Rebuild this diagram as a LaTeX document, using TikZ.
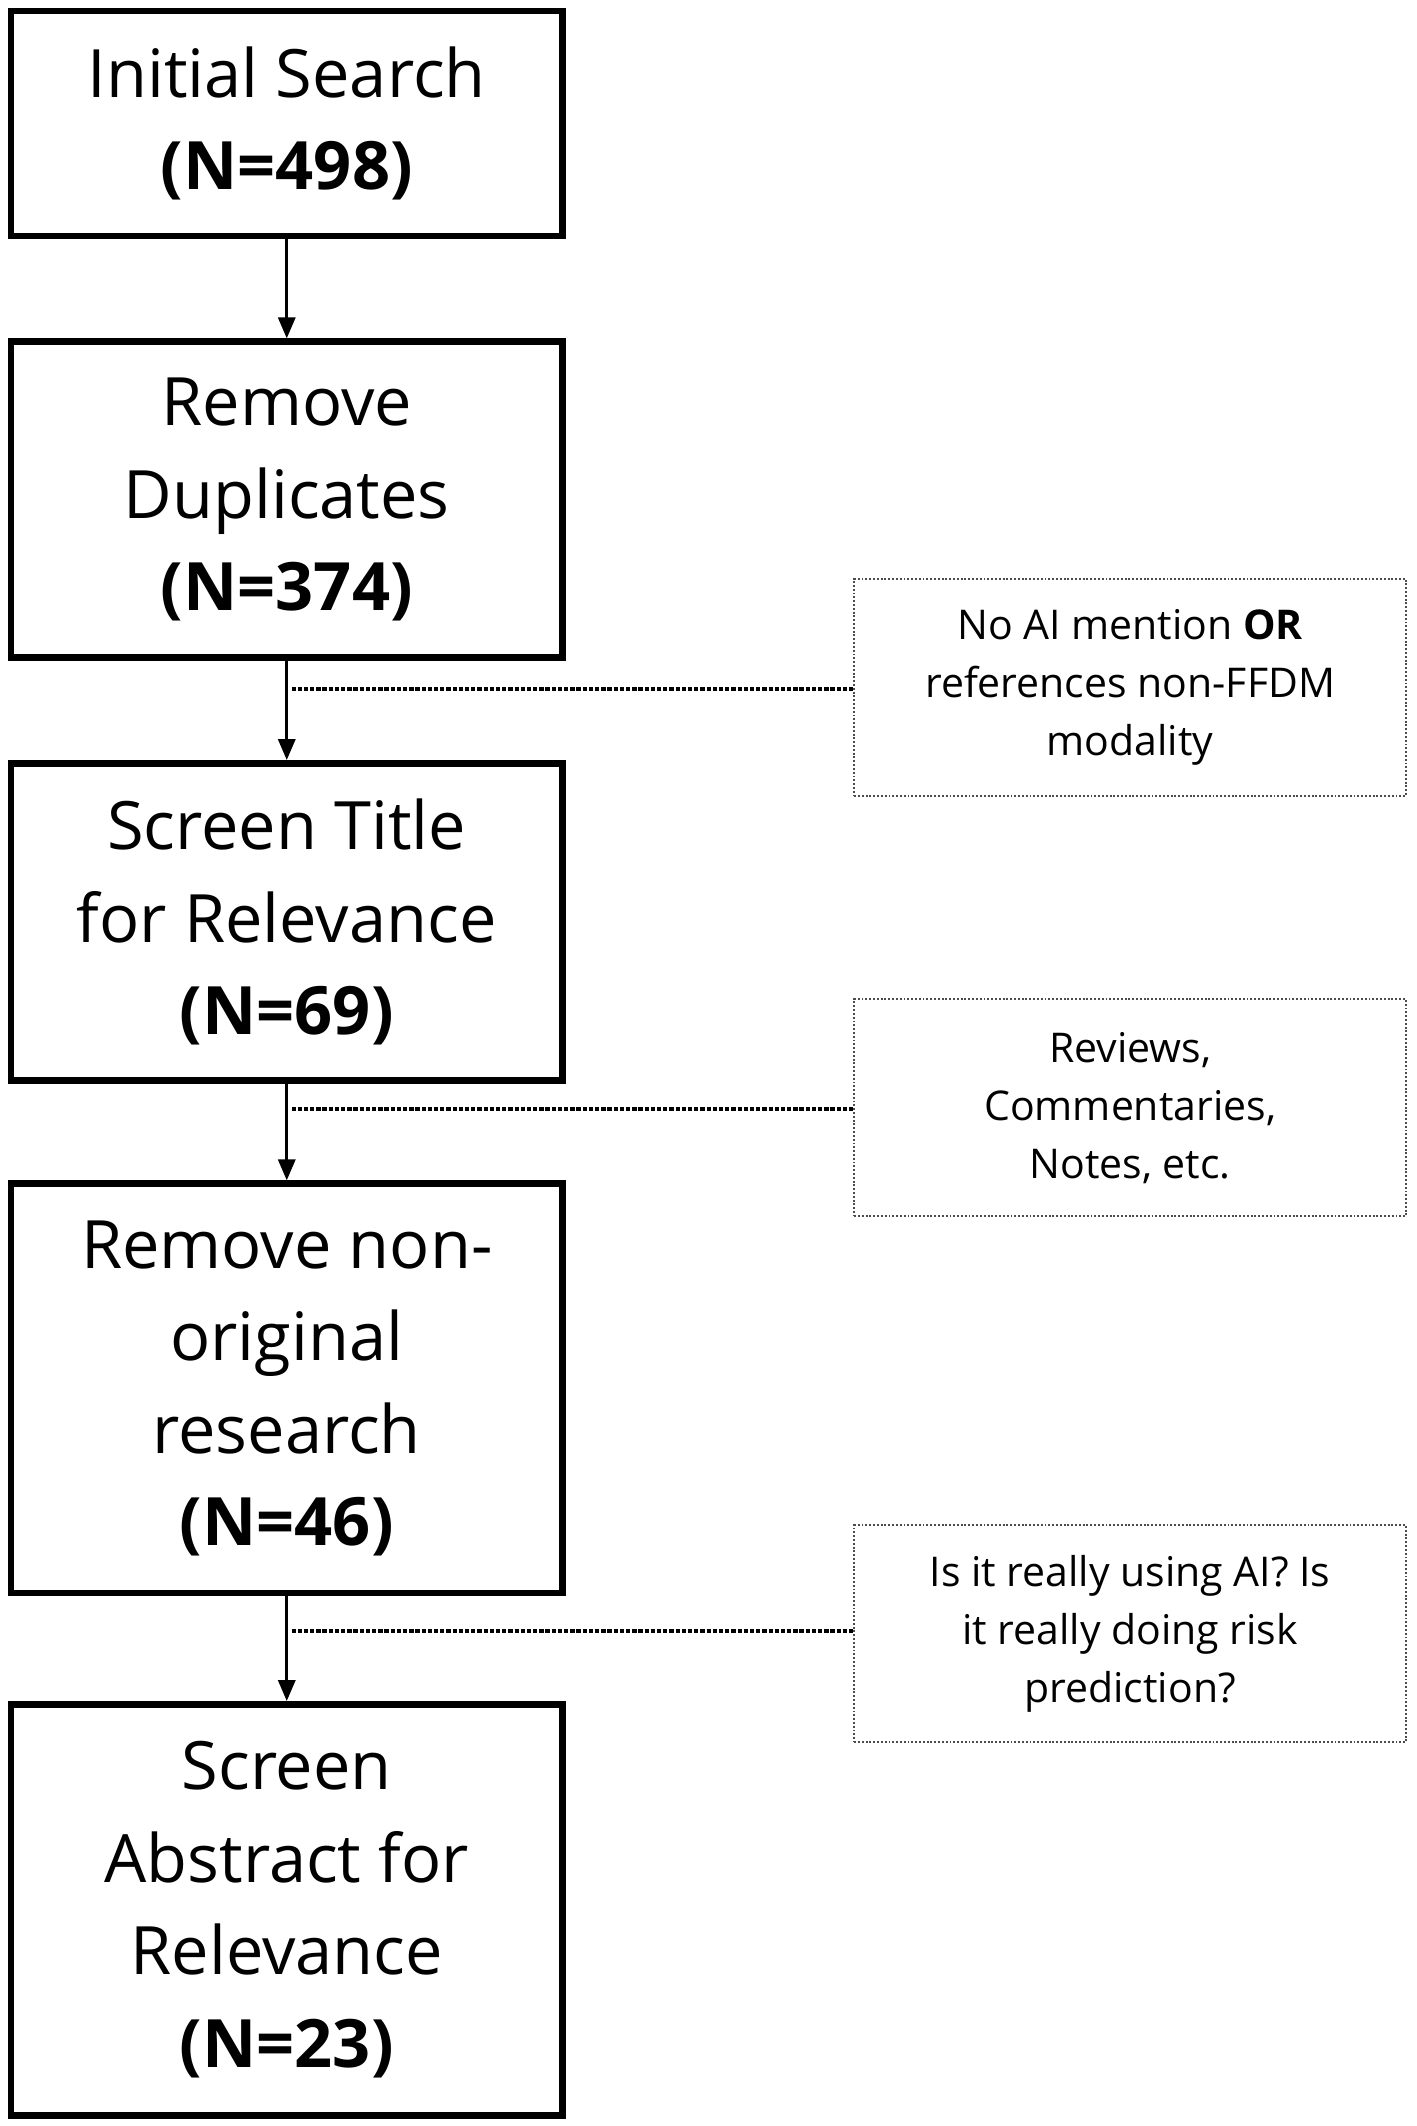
\documentclass[tikz,border=0pt]{standalone}
\usepackage{fontspec}
\setmainfont{Open Sans}
\usetikzlibrary{arrows.meta}
\begin{document}
\begin{tikzpicture}[x=0.05cm,y=-0.05cm,
 box/.style={draw,line width=7pt,inner sep=0pt,align=center,font=\fontsize{70}{97}\selectfont},
 side/.style={draw=black!70,dotted,line width=2pt,inner sep=0pt,align=center,font=\fontsize{43}{61}\selectfont},
 arr/.style={line width=3pt,-{Triangle[length=22pt,width=18pt]}},
 dot/.style={line width=4.5pt,dotted}]
\useasboundingbox (0,0) rectangle (1045,1568);
\node[box,minimum width=407*0.05cm,minimum height=166*0.05cm] (b1) at (211.5,91) {Initial Search\\\textbf{(N=498)}};
\node[box,minimum width=407*0.05cm,minimum height=233*0.05cm] (b2) at (211.5,368.5) {Remove\\Duplicates\\\textbf{(N=374)}};
\node[box,minimum width=407*0.05cm,minimum height=234*0.05cm] (b3) at (211.5,680) {Screen Title\\for Relevance\\\textbf{(N=69)}};
\node[box,minimum width=407*0.05cm,minimum height=302*0.05cm] (b4) at (211.5,1024) {Remove non-\\original\\research\\\textbf{(N=46)}};
\node[box,minimum width=407*0.05cm,minimum height=303*0.05cm] (b5) at (211.5,1408.5) {Screen\\Abstract for\\Relevance\\\textbf{(N=23)}};
\node[side,minimum width=407*0.05cm,minimum height=160*0.05cm] (s1) at (833.5,507) {No AI mention \textbf{OR}\\references non-FFDM\\modality};
\node[side,minimum width=407*0.05cm,minimum height=160*0.05cm] (s2) at (833.5,817) {Reviews,\\Commentaries,\\Notes, etc.};
\node[side,minimum width=407*0.05cm,minimum height=160*0.05cm] (s3) at (833.5,1205) {Is it really using AI? Is\\it really doing risk\\prediction?};
\draw[arr] (b1) -- (b2);
\draw[arr] (b2) -- (b3);
\draw[arr] (b3) -- (b4);
\draw[arr] (b4) -- (b5);
\coordinate (c1) at (215,508);
\coordinate (c2) at (215,818);
\coordinate (c3) at (215,1203);
\draw[dot] (c1) -- (s1.west|-c1);
\draw[dot] (c2) -- (s2.west|-c2);
\draw[dot] (c3) -- (s3.west|-c3);
\end{tikzpicture}
\end{document}
